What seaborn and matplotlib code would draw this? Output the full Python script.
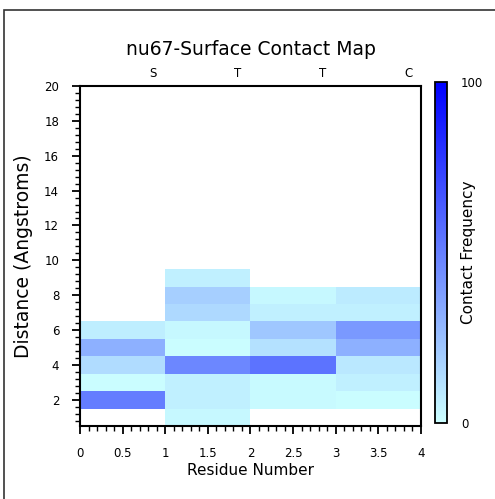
import numpy as np
import pandas as pd
import matplotlib
matplotlib.use("Agg")
import matplotlib.pyplot as plt
import seaborn as sns
from matplotlib.colors import LinearSegmentedColormap
from matplotlib.ticker import AutoMinorLocator, FixedLocator, FuncFormatter
from matplotlib.patches import Rectangle

nan = np.nan

# Contact frequency (%) per distance bin (Angstroms) for each residue
distances = [1, 2, 3, 4, 5, 6, 7, 8, 9]
residues = ["S", "T", "T", "C"]
freq_res1 = [nan, 51, 1, 14, 31, 7, nan, nan, nan]
freq_res2 = [3, 6, 6, 47, 1, 3, 15, 19, 6]
freq_res3 = [nan, 2, 2, 55, 12, 22, 6, 3, nan]
freq_res4 = [nan, 1, 6, 9, 31, 40, 6, 8, nan]

x_ticks = [0, 0.5, 1, 1.5, 2, 2.5, 3, 3.5, 4]
y_ticks = [2, 4, 6, 8, 10, 12, 14, 16, 18, 20]
cbar_ticks = [0, 100]

table = pd.DataFrame(
    {1: freq_res1, 2: freq_res2, 3: freq_res3, 4: freq_res4},
    index=distances,
)

sns.set_style("ticks")
plt.rcParams["font.family"] = ["DejaVu Sans"]
for key in ("text.color", "axes.labelcolor", "xtick.color", "ytick.color",
            "axes.edgecolor"):
    plt.rcParams[key] = "black"

fig = plt.figure(figsize=(4.95, 4.99), dpi=100)
ax = fig.add_axes([0.1616, 0.1463, 0.6889, 0.6814])
cax = fig.add_axes([0.8788, 0.1523, 0.0242, 0.6834])

cmap = LinearSegmentedColormap.from_list("contact", ["#ccffff", "#0000ff"])

sns.heatmap(
    table, ax=ax, cmap=cmap, vmin=0, vmax=100,
    cbar_ax=cax, cbar_kws={"ticks": cbar_ticks},
    xticklabels=False, yticklabels=False,
)

# Rows sit on integer distances; row i covers distance (i+1) +/- 0.5
ax.set_xlim(0, 4)
ax.set_ylim(0, 19.5)
for side, sp in ax.spines.items():
    sp.set_visible(True)
    sp.set_color("black")
    sp.set_linewidth(1.5)

ax.xaxis.set_major_locator(FixedLocator(x_ticks))
ax.xaxis.set_major_formatter(FuncFormatter(lambda v, p: f"{v:g}"))
ax.xaxis.set_minor_locator(AutoMinorLocator(5))
ax.yaxis.set_major_locator(FixedLocator([d - 0.5 for d in y_ticks]))
ax.yaxis.set_major_formatter(FuncFormatter(lambda v, p: f"{v + 0.5:g}"))
ax.yaxis.set_minor_locator(AutoMinorLocator(5))
ax.tick_params(which="both", direction="out", top=False, right=False,
               color="black", labelcolor="black", labelsize=8.5, pad=9)
ax.tick_params(which="major", length=6, width=1.3)
ax.tick_params(which="minor", length=3.5, width=1.0)
ax.tick_params(axis="x", which="both", bottom=True)
ax.tick_params(axis="y", which="both", left=True)

ax.set_xlabel("Residue Number", fontsize=11, labelpad=2, color="black")
ax.set_ylabel("Distance (Angstroms)", fontsize=13.5, labelpad=8, color="black")
ax.set_title("nu67-Surface Contact Map", fontsize=13.5, pad=22, color="black")

# Residue identities along the top
top = ax.secondary_xaxis("top")
top.set_xticks([i + 0.85 for i in range(len(residues))], labels=residues)
top.tick_params(length=0, pad=4, labelsize=8.5, labelcolor="black")
top.spines["top"].set_visible(False)

# Colorbar styling
cbar = ax.collections[0].colorbar
cbar.outline.set_edgecolor("black")
cbar.outline.set_linewidth(1.3)
cax.tick_params(length=0, pad=10, labelsize=8.5, labelcolor="black")
cax.yaxis.set_ticklabels(["0", "100"])
cax.set_ylabel("Contact Frequency", fontsize=11, color="black")
cax.yaxis.set_label_coords(2.2, 0.5)

# Frame around the figure
fig.patches.append(Rectangle((4 / 495, -0.2), 1.2, 1.2 - 10 / 499,
                             transform=fig.transFigure, fill=False,
                             edgecolor="#333333", linewidth=1.2))

fig.savefig("out.png", dpi=100)
